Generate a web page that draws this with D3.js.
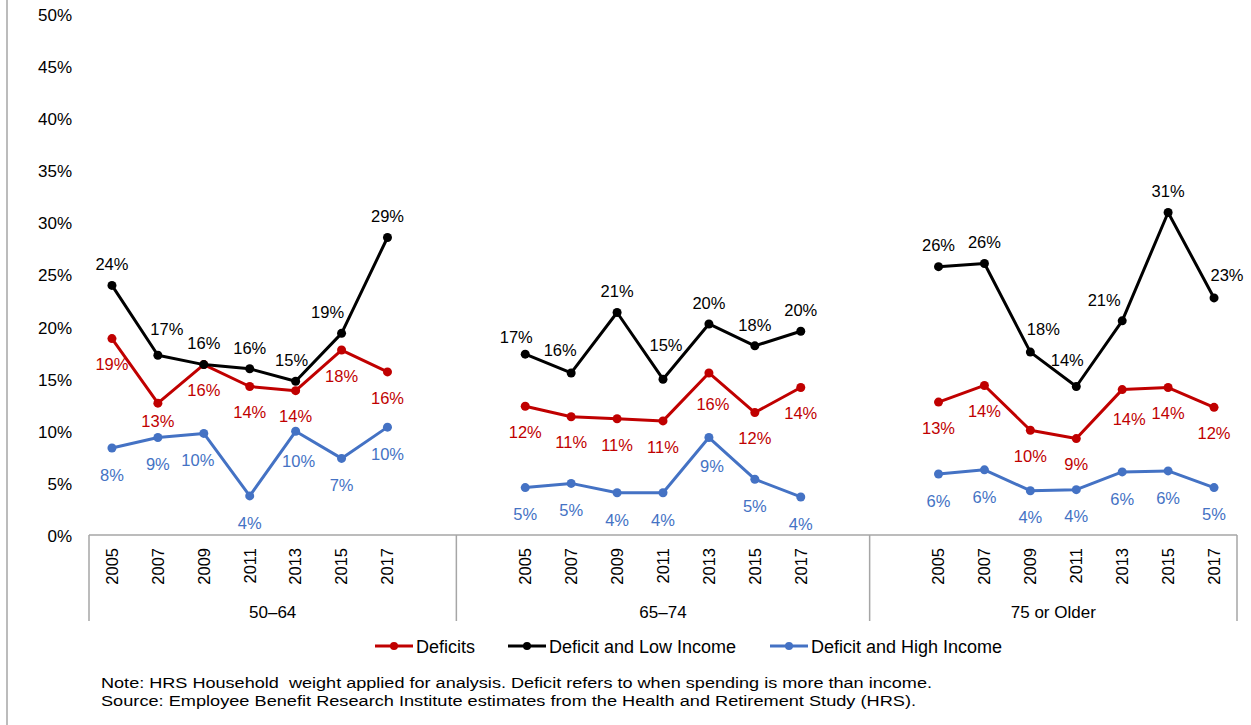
<!DOCTYPE html>
<html>
<head>
<meta charset="utf-8">
<script src="https://cdn.jsdelivr.net/npm/d3@7"></script>
<style>
  html, body { margin: 0; padding: 0; background: #fff; }
  svg { display: block; font-family: "Liberation Sans", Arial, sans-serif; }
</style>
</head>
<body>
<svg id="chart" width="1251" height="725"></svg>
<script>
// Survey years shown in each age panel
const years = ["2005", "2007", "2009", "2011", "2013", "2015", "2017"];
// Age groups (outer category level)
const ageGroups = ["50–64", "65–74", "75 or Older"];

// Share of households (%) per age group, one row per group, one value per year
const deficits = [
  [18.9, 12.7, 16.4, 14.3, 13.9, 17.8, 15.7],
  [12.4, 11.4, 11.2, 11.0, 15.6, 11.8, 14.2],
  [12.8, 14.4, 10.1, 9.3, 14.0, 14.2, 12.3]
];
const deficitLowIncome = [
  [24.0, 17.3, 16.4, 16.0, 14.8, 19.4, 28.6],
  [17.4, 15.6, 21.4, 15.0, 20.3, 18.2, 19.6],
  [25.8, 26.1, 17.6, 14.3, 20.6, 31.0, 22.8]
];
const deficitHighIncome = [
  [8.4, 9.4, 9.8, 3.8, 10.0, 7.4, 10.4],
  [4.6, 5.0, 4.1, 4.1, 9.4, 5.4, 3.7],
  [5.9, 6.3, 4.3, 4.4, 6.1, 6.2, 4.6]
];

const seriesNames = ["Deficits", "Deficit and Low Income", "Deficit and High Income"];
const yTicks = [0, 5, 10, 15, 20, 25, 30, 35, 40, 45, 50];

const noteLines = [
  "Note: HRS Household  weight applied for analysis. Deficit refers to when spending is more than income.",
  "Source: Employee Benefit Research Institute estimates from the Health and Retirement Study (HRS)."
];

// ---- styling ----
const colors = ["#C00000", "#000000", "#4472C4"];
const labelDefaultDy = [26, -21, 27];
// hand-placed data-label nudges: "series-group-yearIndex" -> [dx, dy]
const labelNudge = {
  "1-0-1": [9, -26], "1-0-4": [-4, -21], "1-0-5": [-14, -21],
  "1-1-0": [-9, -17], "1-1-1": [-11, -23], "1-1-3": [3, -34],
  "1-2-2": [13, -23], "1-2-3": [-9, -26], "1-2-4": [-18, -21], "1-2-6": [13, -23],
  "0-0-1": [0, 18], "0-1-4": [4, 31], "0-2-4": [7, 30],
  "2-0-2": [-6, 27], "2-0-4": [3, 30], "2-1-4": [3, 29]
};

const svg = d3.select("#chart");

// Slots along the category axis: blank slots separate the age panels
const slots = [];
ageGroups.forEach((g, gi) => {
  if (gi > 0) slots.push("gapL" + gi);
  years.forEach(yr => slots.push(g + "|" + yr));
  if (gi < ageGroups.length - 1) slots.push("gapR" + gi);
});

const x = d3.scaleBand().domain(slots).range([89, 1237]).paddingInner(0).paddingOuter(0);
const y = d3.scaleLinear().domain([0, 50]).range([535.5, 14.5]);
const xc = key => x(key) + x.bandwidth() / 2;

// left frame line
svg.append("line").attr("x1", 7).attr("x2", 7).attr("y1", 0).attr("y2", 725)
  .attr("stroke", "#a6a6a6").attr("stroke-width", 1.5);

// y-axis labels (no axis line, no grid)
const yAxis = d3.axisLeft(y).tickValues(yTicks).tickSize(0).tickPadding(0)
  .tickFormat(d => d + "%");
const gy = svg.append("g").attr("transform", "translate(72,0)").call(yAxis);
gy.select(".domain").remove();
gy.selectAll("text").attr("font-size", 17).attr("fill", "#000")
  .attr("font-family", "'Liberation Sans', Arial, sans-serif").attr("dy", "0.35em");

// category axis: baseline, panel separators, year and group labels
const axisColor = "#a6a6a6";
svg.append("line").attr("x1", 89).attr("x2", 1237).attr("y1", 535).attr("y2", 535)
  .attr("stroke", axisColor).attr("stroke-width", 1.5);

const bounds = [x(slots[0])];
ageGroups.forEach((g, gi) => {
  const lastKey = gi < ageGroups.length - 1 ? "gapR" + gi : g + "|" + years[years.length - 1];
  bounds.push(x(lastKey) + x.bandwidth());
});
svg.selectAll("line.sep").data(bounds).enter().append("line").attr("class", "sep")
  .attr("x1", d => d).attr("x2", d => d).attr("y1", 535).attr("y2", 621)
  .attr("stroke", axisColor).attr("stroke-width", 1.5);

ageGroups.forEach((g, gi) => {
  years.forEach(yr => {
    const cx = xc(g + "|" + yr);
    svg.append("text")
      .attr("transform", `translate(${cx},548) rotate(-90)`)
      .attr("text-anchor", "end").attr("dy", "0.35em")
      .attr("font-size", 16.5).attr("fill", "#000").text(yr);
  });
  svg.append("text")
    .attr("x", (bounds[gi] + bounds[gi + 1]) / 2).attr("y", 618)
    .attr("text-anchor", "middle").attr("font-size", 17).attr("fill", "#000").text(g);
});

// series lines, markers and labels
const allSeries = [deficits, deficitLowIncome, deficitHighIncome];
const line = d3.line().x(d => d.x).y(d => d.y);

allSeries.forEach((ser, si) => {
  const gS = svg.append("g");
  ser.forEach((vals, gi) => {
    const pts = vals.map((v, i) => ({
      x: xc(ageGroups[gi] + "|" + years[i]), y: y(v), v: v, i: i
    }));
    gS.append("path").attr("d", line(pts)).attr("fill", "none")
      .attr("stroke", colors[si]).attr("stroke-width", 3).attr("stroke-linejoin", "round");
    gS.selectAll(null).data(pts).enter().append("circle")
      .attr("cx", d => d.x).attr("cy", d => d.y).attr("r", 4.5).attr("fill", colors[si]);
    gS.selectAll(null).data(pts).enter().append("text")
      .attr("x", d => d.x + (labelNudge[si + "-" + gi + "-" + d.i] || [0])[0])
      .attr("y", d => d.y + (labelNudge[si + "-" + gi + "-" + d.i] || [0, labelDefaultDy[si]])[1])
      .attr("dy", "0.35em").attr("text-anchor", "middle")
      .attr("font-size", 16.5).attr("fill", colors[si])
      .text(d => Math.round(d.v) + "%");
  });
});

// legend
const legendItems = [
  { x: 375, name: seriesNames[0], c: colors[0] },
  { x: 508, name: seriesNames[1], c: colors[1] },
  { x: 770, name: seriesNames[2], c: colors[2] }
];
const lg = svg.append("g");
legendItems.forEach(it => {
  lg.append("line").attr("x1", it.x).attr("x2", it.x + 38).attr("y1", 646).attr("y2", 646)
    .attr("stroke", it.c).attr("stroke-width", 3);
  lg.append("circle").attr("cx", it.x + 19).attr("cy", 646).attr("r", 4).attr("fill", it.c);
  lg.append("text").attr("x", it.x + 41).attr("y", 653).attr("font-size", 18)
    .attr("fill", "#000").text(it.name);
});

// notes
const noteWidths = [831, 815];
noteLines.forEach((t, i) => {
  svg.append("text").attr("x", 101).attr("y", 688 + i * 18)
    .attr("font-size", 15.5).attr("fill", "#000")
    .style("white-space", "pre")
    .attr("textLength", noteWidths[i]).attr("lengthAdjust", "spacingAndGlyphs")
    .text(t);
});
</script>
</body>
</html>
